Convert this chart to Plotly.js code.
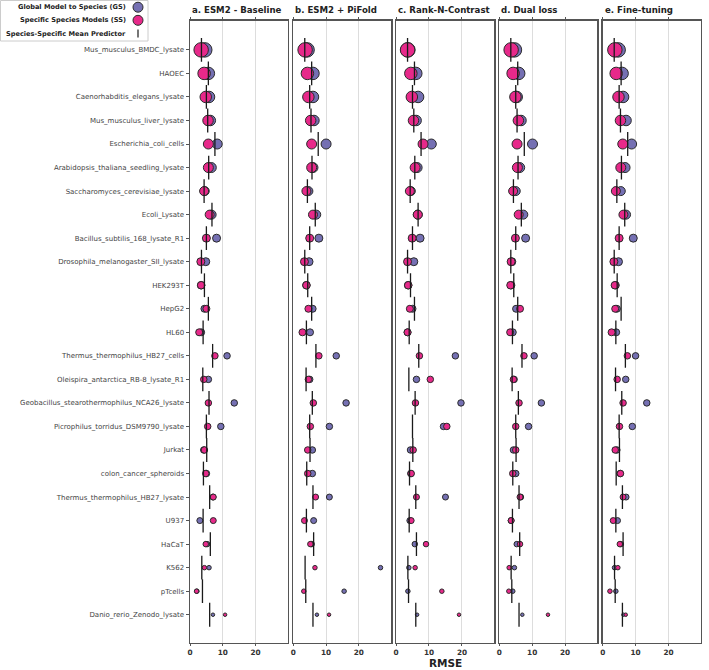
<!DOCTYPE html>
<html>
<head>
<meta charset="utf-8">
<script src="https://cdn.plot.ly/plotly-3.0.1.min.js"></script>
<style>html,body{margin:0;padding:0;background:#fff;}#chart{width:709px;height:670px;}</style>
</head>
<body>
<div id="chart"></div>
<script>
const categories = [
  "Mus_musculus_BMDC_lysate","HAOEC","Caenorhabditis_elegans_lysate","Mus_musculus_liver_lysate",
  "Escherichia_coli_cells","Arabidopsis_thaliana_seedling_lysate","Saccharomyces_cerevisiae_lysate",
  "Ecoli_Lysate","Bacillus_subtilis_168_lysate_R1","Drosophila_melanogaster_SII_lysate","HEK293T",
  "HepG2","HL60","Thermus_thermophilus_HB27_cells","Oleispira_antarctica_RB-8_lysate_R1",
  "Geobacillus_stearothermophilus_NCA26_lysate","Picrophilus_torridus_DSM9790_lysate","Jurkat",
  "colon_cancer_spheroids","Thermus_thermophilus_HB27_lysate","U937","HaCaT","K562","pTcells",
  "Danio_rerio_Zenodo_lysate"
];
const panelTitles = ["a. ESM2 - Baseline","b. ESM2 + PiFold","c. Rank-N-Contrast","d. Dual loss","e. Fine-tuning"];
const xTicks = [0, 10, 20];

// Species-specific mean predictor (same in every panel)
const meanPredictor = [3.5,5.6,5.0,5.4,7.6,5.7,4.3,6.7,5.0,3.5,4.4,5.6,4.0,6.9,3.9,5.8,5.0,5.1,4.1,6.0,4.0,6.2,3.6,3.8,6.0];

// a. ESM2 - Baseline
const gsA = [4.5,5.6,5.8,6.2,8.3,6.5,4.5,6.6,8.1,4.8,3.4,4.4,3.4,11.3,5.6,13.5,9.4,4.2,5.0,7.0,3.0,5.2,5.8,2.1,7.0];
const ssA = [3.4,4.3,4.8,5.5,5.6,5.6,4.3,6.0,5.0,3.3,3.4,5.0,2.8,7.6,4.2,5.6,5.4,4.4,4.8,7.1,7.1,4.8,4.4,2.0,10.7];
// b. ESM2 + PiFold
const gsB = [4.2,6.0,6.0,6.3,10.0,6.0,4.6,7.0,7.8,4.8,4.0,5.9,5.1,13.1,5.0,16.1,11.0,5.8,5.8,11.0,6.2,5.6,26.6,15.5,7.2];
const ssB = [3.6,4.3,4.6,5.3,5.6,5.6,4.0,6.0,5.0,3.4,4.0,4.6,2.8,7.8,4.6,6.1,5.2,4.4,4.4,6.8,3.4,5.2,6.6,3.2,10.9];
// c. Rank-N-Contrast
const gsC = [3.6,6.0,6.7,6.1,10.7,6.4,4.5,6.6,7.3,5.4,3.7,5.0,3.5,18.0,6.2,19.7,14.4,4.4,4.5,15.0,4.2,5.7,3.9,3.6,6.4];
const ssC = [3.5,4.5,4.8,5.3,8.2,5.8,4.2,6.6,4.9,3.5,3.7,4.2,3.5,7.1,10.4,5.9,15.4,5.2,4.6,6.2,4.6,9.1,5.8,13.9,19.1];
// d. Dual loss
const gsD = [4.6,5.9,5.3,6.6,10.1,6.2,5.0,7.3,8.0,3.8,3.6,5.1,4.1,10.6,4.5,12.8,8.9,4.3,5.0,6.5,3.6,5.3,4.6,4.1,7.0];
const ssD = [3.6,4.2,4.9,5.8,5.4,5.5,4.2,5.9,4.9,3.6,3.4,6.3,3.3,7.5,4.3,6.0,5.0,5.0,4.1,6.3,3.6,6.3,3.0,2.9,14.8];
// e. Fine-tuning
const gsE = [4.7,5.9,6.2,7.1,8.8,6.8,5.5,7.1,9.3,4.8,3.9,4.3,4.1,10.0,7.0,13.4,9.0,4.3,5.3,7.1,4.5,5.5,3.6,4.0,6.3];
const ssE = [3.7,4.1,4.8,5.4,6.1,5.5,4.0,6.3,5.0,3.4,3.7,3.8,2.7,7.5,4.4,6.2,5.1,3.8,5.4,6.2,3.2,5.2,4.6,2.2,7.0];

const gsPanels = [gsA, gsB, gsC, gsD, gsE];
const ssPanels = [ssA, ssB, ssC, ssD, ssE];

// ---- styling (not data) ----
const markerSizes = [14.5,12.5,11.5,10.5,10,10,9,9,8,8,7.5,7,7,6.5,6.5,6.5,6.5,6.5,6.5,6,6,5.5,4.5,4.5,3.5];
const GS_COLOR = "#7570b3", SS_COLOR = "#e7298a", EDGE = "#2a2a2a", SPINE = "#555555";
const W = 709, H = 670;
const panelPx = [[190,287.7],[293.3,391],[396,494.3],[499.3,597.3],[602.7,700.7]];
const yTopPx = 20.7, yBotPx = 642.5;
const fontFam = "DejaVu Sans";
const rowIdx = categories.map((_, i) => i);

const px = v => v / W;
const py = v => 1 - v / H;

const traces = [];
const layout = {
  width: W, height: H,
  margin: {l:0, r:0, t:0, b:0},
  paper_bgcolor: "#ffffff", plot_bgcolor: "#ffffff",
  showlegend: false,
  font: {family: fontFam, color: "#333"},
  annotations: [], shapes: []
};

for (let k = 0; k < 5; k++) {
  const xa = k === 0 ? "x" : "x" + (k + 1);
  const ya = k === 0 ? "y" : "y" + (k + 1);
  traces.push({
    type: "scatter", mode: "markers", x: gsPanels[k], y: rowIdx, xaxis: xa, yaxis: ya,
    name: "Global Model to Species (GS)", hoverinfo: "x+text", text: categories,
    marker: {size: markerSizes, color: GS_COLOR, opacity: 1, line: {color: EDGE, width: 1}}
  });
  traces.push({
    type: "scatter", mode: "markers", x: ssPanels[k], y: rowIdx, xaxis: xa, yaxis: ya,
    name: "Specific Species Models (SS)", hoverinfo: "x+text", text: categories,
    marker: {size: markerSizes, color: SS_COLOR, opacity: 1, line: {color: EDGE, width: 1}}
  });
  traces.push({
    type: "scatter", mode: "markers", x: meanPredictor, y: rowIdx, xaxis: xa, yaxis: ya,
    name: "Species-Specific Mean Predictor", hoverinfo: "x+text", text: categories,
    marker: {symbol: "line-ns-open", size: 17, color: "#1a1a1a", line: {color: "#1a1a1a", width: 1.3}}
  });

  const xKey = k === 0 ? "xaxis" : "xaxis" + (k + 1);
  const yKey = k === 0 ? "yaxis" : "yaxis" + (k + 1);
  layout[xKey] = {
    domain: [px(panelPx[k][0]), px(panelPx[k][1])],
    anchor: ya, range: [0, 29.8],
    tickvals: xTicks, ticktext: xTicks.map(String),
    showgrid: true, gridcolor: "#dddddd", gridwidth: 1, zeroline: false,
    showline: true, linecolor: SPINE, linewidth: 1.5, mirror: "ticks",
    ticks: "outside", ticklen: 2, tickcolor: SPINE, tickwidth: 1,
    ticklabelstandoff: 0,
    tickfont: {family: fontFam, size: 7.3, color: "#333", weight: "bold"},
    fixedrange: true
  };
  layout[yKey] = {
    domain: [1 - yBotPx / H, 1 - yTopPx / H],
    anchor: xa, range: [categories.length - 1 + 1.18, -1.24],
    tickvals: rowIdx, ticktext: categories,
    showticklabels: k === 0,
    ticks: k === 0 ? "outside" : "", ticklen: 3, tickcolor: SPINE, tickwidth: 1,
    tickfont: {family: fontFam, size: 7, color: "#444"},
    showgrid: false, zeroline: false,
    showline: true, linecolor: SPINE, linewidth: 1.5, mirror: true,
    fixedrange: true
  };
  layout.annotations.push({
    xref: "paper", yref: "paper", x: px(panelPx[k][0]), y: py(10.5),
    xanchor: "left", yanchor: "middle", showarrow: false,
    text: "<b>" + panelTitles[k] + "</b>",
    font: {family: fontFam, size: 8.6, color: "#222"}
  });
}

// x axis title
layout.annotations.push({
  xref: "paper", yref: "paper", x: px((panelPx[0][0] + panelPx[4][1]) / 2), y: py(669.5),
  xanchor: "center", yanchor: "bottom", showarrow: false, borderpad: 0,
  text: "<b>RMSE</b>", font: {family: fontFam, size: 10.5, color: "#222"}
});

// custom legend (text on left, symbol on right)
const legendItems = [
  {label: "Global Model to Species (GS)", kind: "circle", color: GS_COLOR, ypx: 7.2},
  {label: "Specific Species Models (SS)", kind: "circle", color: SS_COLOR, ypx: 20.3},
  {label: "Species-Specific Mean Predictor", kind: "bar", color: "#1a1a1a", ypx: 33.6}
];
layout.shapes.push({
  type: "rect", xref: "paper", yref: "paper",
  x0: px(0.5), x1: px(148), y0: py(41), y1: py(0.5),
  line: {color: "#cccccc", width: 1}, fillcolor: "rgba(255,255,255,0.9)", layer: "above"
});
legendItems.forEach(it => {
  layout.annotations.push({
    xref: "paper", yref: "paper", x: px(128), y: py(it.ypx),
    xanchor: "right", yanchor: "middle", showarrow: false,
    text: "<b>" + it.label + "</b>", font: {family: fontFam, size: 6.6, color: "#222"}
  });
  if (it.kind === "circle") {
    layout.shapes.push({
      type: "circle", xref: "paper", yref: "paper",
      xsizemode: "pixel", ysizemode: "pixel",
      xanchor: px(138), yanchor: py(it.ypx),
      x0: -5, x1: 5, y0: -5, y1: 5,
      fillcolor: it.color, line: {color: EDGE, width: 1}, layer: "above"
    });
  } else {
    layout.shapes.push({
      type: "line", xref: "paper", yref: "paper",
      x0: px(138), x1: px(138), y0: py(it.ypx - 4), y1: py(it.ypx + 4),
      line: {color: it.color, width: 1.2}, layer: "above"
    });
  }
});

Plotly.newPlot("chart", traces, layout, {displayModeBar: false, staticPlot: true});
</script>
</body>
</html>
